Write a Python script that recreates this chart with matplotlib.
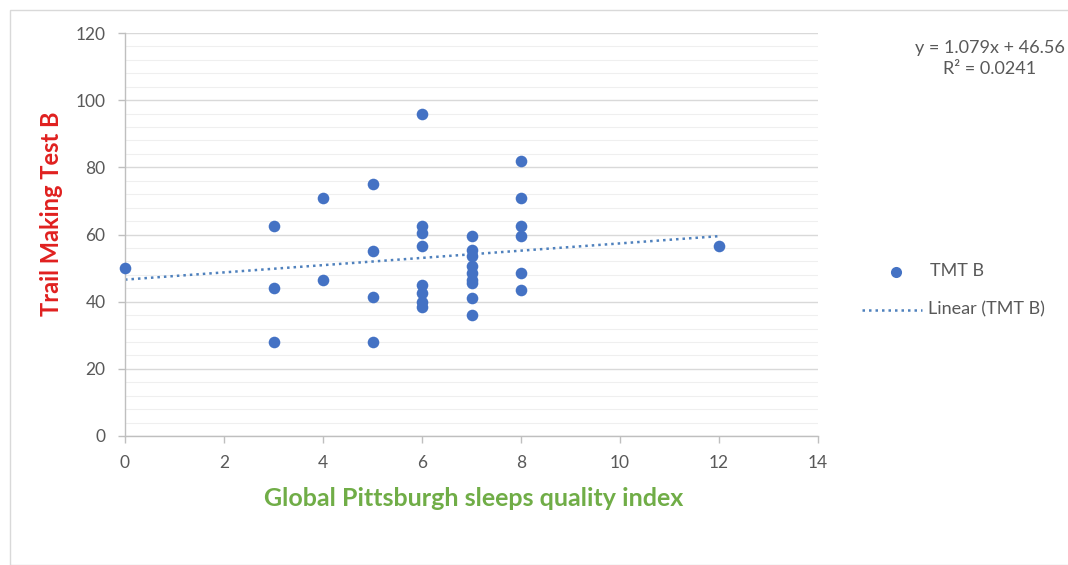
import matplotlib
matplotlib.use("Agg")
import matplotlib.pyplot as plt
from matplotlib.patches import Rectangle
from matplotlib.lines import Line2D
from matplotlib.ticker import MultipleLocator

plt.rcParams['font.family'] = ['Lato', 'DejaVu Sans']

# Global PSQI score (x) and Trail Making Test B time (y)
psqi = [0,
        3, 3, 3,
        4, 4,
        5, 5, 5, 5,
        6, 6, 6, 6, 6, 6, 6, 6,
        7, 7, 7, 7, 7, 7, 7, 7, 7,
        8, 8, 8, 8, 8, 8,
        12]
tmt_b = [50,
         62.5, 44, 28,
         71, 46.5,
         75, 55, 41.5, 28,
         96, 62.5, 60.5, 56.5, 45, 42.5, 40, 38.5,
         59.5, 55.5, 53.5, 50.5, 48.5, 46.5, 45.5, 41, 36,
         82, 71, 62.5, 59.5, 48.5, 43.5,
         56.5]

# Linear trendline as reported on the chart
slope = 1.079
intercept = 46.56
r_squared = 0.0241
trend_x = [0, 12]

x_ticks = [0, 2, 4, 6, 8, 10, 12, 14]
y_ticks = [0, 20, 40, 60, 80, 100, 120]

DOT = '#4472c4'
TREND = '#4f81bd'
TEXT = '#595959'

W, H = 1068, 565
fig = plt.figure(figsize=(W / 100, H / 100), dpi=100)
fig.patch.set_facecolor('white')


def fx(px):
    return px / W


def fy(py):
    return 1 - py / H


# Chart area border
fig.patches.append(Rectangle((fx(10), 0), fx(W + 20), fy(10),
                             transform=fig.transFigure, fill=False,
                             edgecolor='#d9d9d9', linewidth=1))

ax = fig.add_axes([fx(125), fy(436), fx(693), 403 / H])
ax.set_xlim(0, 14)
ax.set_ylim(0, 120)
ax.set_xticks(x_ticks)
ax.set_yticks(y_ticks)
ax.yaxis.set_minor_locator(MultipleLocator(4))

ax.grid(which='major', axis='y', color='#d9d9d9', linewidth=1)
ax.grid(which='minor', axis='y', color='#efefef', linewidth=0.8)
ax.set_axisbelow(True)

for side in ('top', 'right'):
    ax.spines[side].set_visible(False)
for side in ('left', 'bottom'):
    ax.spines[side].set_color('#bfbfbf')
    ax.spines[side].set_linewidth(1)

ax.tick_params(which='major', direction='out', length=5, width=1,
               color='#bfbfbf', labelcolor=TEXT, labelsize=12.5)
ax.tick_params(axis='y', pad=9)
ax.tick_params(axis='x', pad=9)
ax.tick_params(which='minor', length=0)

ax.scatter(psqi, tmt_b, s=70, color=DOT, zorder=3, clip_on=False,
           linewidths=0)
ax.plot(trend_x, [slope * v + intercept for v in trend_x],
        color=TREND, linewidth=1.8, linestyle=(0, (1, 1.6)), zorder=2)

# Axis titles
fig.text(fx(474), fy(498), 'Global Pittsburgh sleeps quality index',
         color='#70ad47', fontsize=18, fontweight='bold',
         ha='center', va='center')
fig.text(fx(52), fy(214), 'Trail Making Test B', color='#e0201f',
         fontsize=17, fontweight='bold', rotation=90,
         ha='center', va='center')

# Trendline equation
fig.text(fx(990), fy(48), f'y = {slope}x + {intercept}', ha='center',
         va='center', fontsize=13, color=TEXT)
fig.text(fx(990), fy(69), f'R² = {r_squared}', ha='center',
         va='center', fontsize=13, color=TEXT)

# Legend entries
fig.add_artist(Line2D([fx(896)], [fy(272)], transform=fig.transFigure,
                      linestyle='none', marker='o', markersize=8,
                      markerfacecolor=DOT, markeredgewidth=0))
fig.text(fx(930), fy(271), 'TMT B', ha='left', va='center',
         fontsize=13, color=TEXT)
fig.add_artist(Line2D([fx(862), fx(922)], [fy(310), fy(310)],
                      transform=fig.transFigure, color=TREND,
                      linewidth=1.8, linestyle=(0, (1, 1.6))))
fig.text(fx(928), fy(309), 'Linear (TMT B)', ha='left', va='center',
         fontsize=13, color=TEXT)

fig.savefig('out.png', dpi=100)
